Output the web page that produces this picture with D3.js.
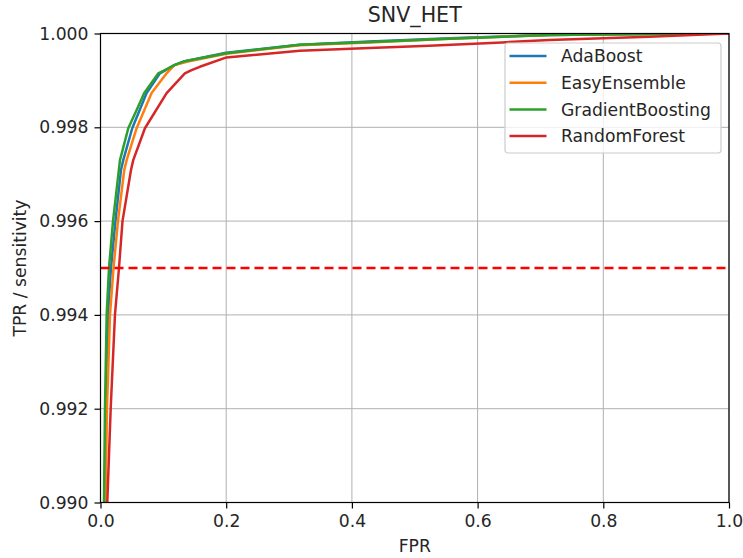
<!DOCTYPE html>
<html>
<head>
<meta charset="utf-8">
<script src="https://cdn.jsdelivr.net/npm/d3@7"></script>
<style>
  html, body { margin: 0; padding: 0; background: #ffffff; }
  svg { display: block; font-family: "DejaVu Sans", sans-serif; }
</style>
</head>
<body>
<svg id="chart" width="743" height="558"></svg>
<script>
// ROC curves for SNV_HET: [FPR, TPR] pairs per model
const seriesNames = ["AdaBoost", "EasyEnsemble", "GradientBoosting", "RandomForest"];
const seriesColors = ["#1f77b4", "#ff7f0e", "#2ca02c", "#d62728"];

const adaBoost = [
  [0.0, 0.0], [0.0030, 0.9850], [0.0064, 0.9900], [0.0087, 0.9920], [0.0119, 0.9940],
  [0.0167, 0.9950], [0.0238, 0.9960], [0.0326, 0.99709], [0.0362, 0.99730],
  [0.0505, 0.99798], [0.0734, 0.99873], [0.0945, 0.99915], [0.1183, 0.99933],
  [0.1340, 0.99941], [0.2000, 0.99959], [0.3170, 0.99976], [0.4280, 0.99983],
  [0.5550, 0.99990], [0.7140, 0.99997], [0.8730, 0.99999], [1.0, 1.0]
];
const easyEnsemble = [
  [0.0, 0.0], [0.0040, 0.9850], [0.0079, 0.9900], [0.0103, 0.9920], [0.0151, 0.9940],
  [0.0207, 0.9950], [0.0278, 0.9960], [0.0378, 0.99709], [0.0416, 0.99730],
  [0.0575, 0.99798], [0.0813, 0.99873], [0.1052, 0.99915], [0.1180, 0.99933],
  [0.1390, 0.99940], [0.2000, 0.99957], [0.3170, 0.99975], [0.4280, 0.99981],
  [0.5550, 0.99989], [0.7140, 0.99997], [0.8730, 0.99999], [1.0, 1.0]
];
const gradientBoosting = [
  [0.0, 0.0], [0.0028, 0.9850], [0.0056, 0.9900], [0.0071, 0.9920], [0.0098, 0.9940],
  [0.0135, 0.9950], [0.0199, 0.9960], [0.0310, 0.99730], [0.0442, 0.99798],
  [0.0575, 0.99837], [0.0696, 0.99873], [0.0918, 0.99915], [0.1025, 0.99922],
  [0.1183, 0.99933], [0.1340, 0.99941], [0.2000, 0.99958], [0.3170, 0.99976],
  [0.4280, 0.99982], [0.5550, 0.99989], [0.7140, 0.99997], [0.8730, 0.99999], [1.0, 1.0]
];
const randomForest = [
  [0.0, 0.0], [0.0060, 0.9850], [0.0108, 0.9900], [0.0162, 0.9920], [0.0230, 0.9940],
  [0.0294, 0.9950], [0.0350, 0.9960], [0.0485, 0.99709], [0.0521, 0.99730],
  [0.0707, 0.99798], [0.1052, 0.99873], [0.1342, 0.99915], [0.1449, 0.99922],
  [0.1580, 0.99929], [0.2005, 0.99949], [0.3170, 0.99963], [0.4280, 0.99969],
  [0.5230, 0.99974], [0.6390, 0.99981], [0.7140, 0.99986], [0.8730, 0.99993], [1.0, 1.0]
];
const seriesData = [adaBoost, easyEnsemble, gradientBoosting, randomForest];

const xTicks = [0.0, 0.2, 0.4, 0.6, 0.8, 1.0];
const yTicks = [0.990, 0.992, 0.994, 0.996, 0.998, 1.000];
const sensitivityTarget = 0.995;

const chartTitle = "SNV_HET";
const xLabel = "FPR";
const yLabel = "TPR / sensitivity";

// Layout
const svg = d3.select("#chart");
const margin = { left: 100.5, right: 14, top: 33.5, bottom: 55.5 };
const W = 743, H = 558;
const plotW = W - margin.left - margin.right;
const plotH = H - margin.top - margin.bottom;

const x = d3.scaleLinear().domain([0, 1]).range([margin.left, margin.left + plotW]);
const y = d3.scaleLinear().domain([0.990, 1.000]).range([margin.top + plotH, margin.top]);

svg.append("rect").attr("width", W).attr("height", H).attr("fill", "#ffffff");

svg.append("defs").append("clipPath").attr("id", "plotClip")
  .append("rect")
  .attr("x", margin.left).attr("y", margin.top)
  .attr("width", plotW).attr("height", plotH);

// Grid
const grid = svg.append("g").attr("class", "grid");
grid.selectAll("line.vx").data(xTicks).join("line")
  .attr("x1", d => x(d)).attr("x2", d => x(d))
  .attr("y1", margin.top).attr("y2", margin.top + plotH)
  .attr("stroke", "#b0b0b0").attr("stroke-width", 1);
grid.selectAll("line.hy").data(yTicks).join("line")
  .attr("x1", margin.left).attr("x2", margin.left + plotW)
  .attr("y1", d => y(d)).attr("y2", d => y(d))
  .attr("stroke", "#b0b0b0").attr("stroke-width", 1);

// Curves
const lineW = 2.5;
const line = d3.line().x(d => x(d[0])).y(d => y(d[1]));
const curves = svg.append("g").attr("clip-path", "url(#plotClip)");
seriesData.forEach((data, i) => {
  curves.append("path")
    .datum(data)
    .attr("d", line)
    .attr("fill", "none")
    .attr("stroke", seriesColors[i])
    .attr("stroke-width", lineW)
    .attr("stroke-linejoin", "round")
    .attr("stroke-linecap", "square");
});

// Target sensitivity line
curves.append("line")
  .attr("x1", x(0)).attr("x2", x(1))
  .attr("y1", y(sensitivityTarget)).attr("y2", y(sensitivityTarget))
  .attr("stroke", "#ff0000").attr("stroke-width", lineW)
  .attr("stroke-dasharray", "9,5");

// Axes
const fontSize = 17.2;
const xAxis = d3.axisBottom(x).tickValues(xTicks).tickFormat(d3.format(".1f"))
  .tickSize(6).tickPadding(6);
const yAxis = d3.axisLeft(y).tickValues(yTicks).tickFormat(d3.format(".3f"))
  .tickSize(6).tickPadding(6);

const gx = svg.append("g").attr("transform", `translate(0,${margin.top + plotH})`).call(xAxis);
const gy = svg.append("g").attr("transform", `translate(${margin.left},0)`).call(yAxis);
[gx, gy].forEach(g => {
  g.select(".domain").remove();
  g.selectAll(".tick line").attr("stroke", "#000").attr("stroke-width", 1.2);
  g.selectAll(".tick text").attr("fill", "#262626")
    .style("font-family", "DejaVu Sans").style("font-size", fontSize + "px");
});

// Spines
svg.append("rect")
  .attr("x", margin.left).attr("y", margin.top)
  .attr("width", plotW).attr("height", plotH)
  .attr("fill", "none").attr("stroke", "#000").attr("stroke-width", 1.2);

// Title and axis labels
svg.append("text")
  .attr("x", margin.left + plotW / 2).attr("y", 22)
  .attr("text-anchor", "middle")
  .style("font-size", "20.6px").attr("fill", "#262626")
  .text(chartTitle);
svg.append("text")
  .attr("x", margin.left + plotW / 2).attr("y", 552)
  .attr("text-anchor", "middle")
  .style("font-size", fontSize + "px").attr("fill", "#262626")
  .text(xLabel);
svg.append("text")
  .attr("transform", `translate(25.5,${margin.top + plotH / 2}) rotate(-90)`)
  .attr("text-anchor", "middle")
  .style("font-size", fontSize + "px").attr("fill", "#262626")
  .text(yLabel);

// Legend
const legend = svg.append("g").attr("transform", "translate(505,43)");
legend.append("rect")
  .attr("x", 0).attr("y", 0).attr("width", 216).attr("height", 110)
  .attr("rx", 3).attr("ry", 3)
  .attr("fill", "#ffffff").attr("fill-opacity", 0.8)
  .attr("stroke", "#cccccc").attr("stroke-width", 1.2);
seriesNames.forEach((name, i) => {
  const cy = 13 + i * 26.7;
  legend.append("line")
    .attr("x1", 4.5).attr("x2", 41.5).attr("y1", cy).attr("y2", cy)
    .attr("stroke", seriesColors[i]).attr("stroke-width", lineW);
  legend.append("text")
    .attr("x", 56).attr("y", cy).attr("dy", "0.36em")
    .style("font-size", fontSize + "px").attr("fill", "#262626")
    .text(name);
});
</script>
</body>
</html>
